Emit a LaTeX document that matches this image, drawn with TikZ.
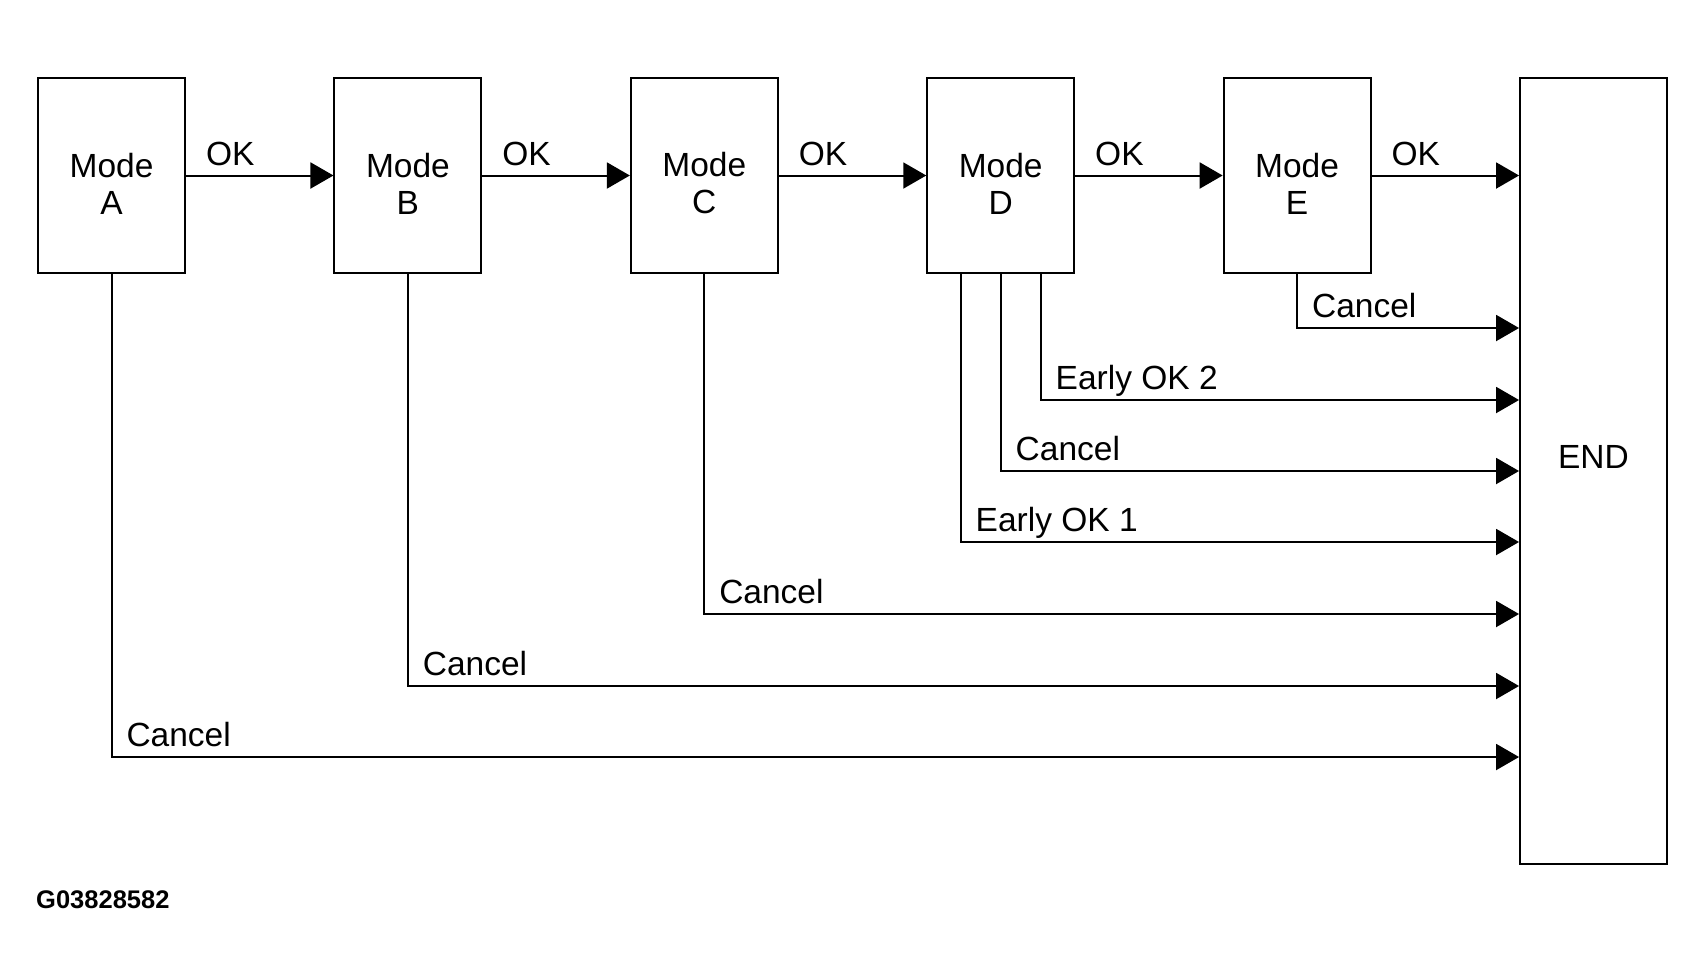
\documentclass[tikz,border=0pt]{standalone}
\usepackage{fontspec}
\setmainfont{Liberation Sans}
\usetikzlibrary{positioning}
\usetikzlibrary{arrows.meta}

\begin{document}
\begin{tikzpicture}
	[	x=1pt, y=-1pt,
		font=\fontsize{33.5}{37}\selectfont,
		block/.style={rectangle,draw=black,line width=1.9pt,minimum width=147pt,align=center,inner sep=0pt},
		mode/.style={block,minimum height=195pt,execute at begin node=\rule{0pt}{77pt}},
		vec/.style={-{Triangle[length=23pt,width=26pt]},line width=2pt},
		lab/.style={inner xsep=14pt,inner ysep=9.5pt,text depth=0pt}	]
	\useasboundingbox (0,0) rectangle (1706,980);
	\node[mode] (modeA) at (111.5,175.5) {Mode\\A};
	\node[mode] (modeB) [right = 147.5pt of modeA] {Mode\\B};
	\node[mode] (modeC) [right = 147.5pt of modeB] {Mode\\C};
	\node[mode] (modeD) [right = 147.5pt of modeC] {Mode\\D};
	\node[mode] (modeE) [right = 147.5pt of modeD] {Mode\\E};
	\node[block,minimum height=786pt,text depth=28pt] (endbox) [below right = 0pt and 147.5pt of modeE.north east] {END};
	\draw[vec] (modeA) to node[lab,above,pos=0.3]{OK} (modeB);
	\draw[vec] (modeB) to node[lab,above,pos=0.3]{OK} (modeC);
	\draw[vec] (modeC) to node[lab,above,pos=0.3]{OK} (modeD);
	\draw[vec] (modeD) to node[lab,above,pos=0.3]{OK} (modeE);
	\draw[vec] (modeE) to node[lab,above,pos=0.3]{OK} (modeE -| endbox.west);
	\draw[vec] (modeE.south) |- node[lab,pos=0.5,above right]{Cancel} (endbox.west |- 0,328);
	\draw[vec] ([xshift=40pt]modeD.south) |- node[lab,pos=0.5,above right]{Early OK 2} (endbox.west |- 0,400);
	\draw[vec] (modeD.south) |- node[lab,pos=0.5,above right]{Cancel} (endbox.west |- 0,471);
	\draw[vec] ([xshift=-40pt]modeD.south) |- node[lab,pos=0.5,above right]{Early OK 1} (endbox.west |- 0,542);
	\draw[vec] (modeC.south) |- node[lab,pos=0.5,above right]{Cancel} (endbox.west |- 0,614);
	\draw[vec] (modeB.south) |- node[lab,pos=0.5,above right]{Cancel} (endbox.west |- 0,686);
	\draw[vec] (modeA.south) |- node[lab,pos=0.5,above right]{Cancel} (endbox.west |- 0,757);
	\node[anchor=west,inner sep=0pt,font=\fontsize{25.5}{30}\selectfont\bfseries] (figid) at (36,900) {G03828582};
\end{tikzpicture}
\end{document}
